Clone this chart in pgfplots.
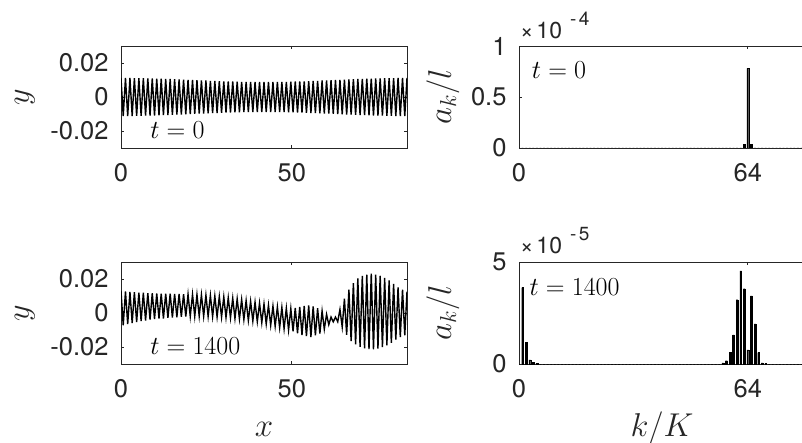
\RequirePackage{fix-cm}
\documentclass[border=0pt]{standalone}
\usepackage{pgfplots}
\pgfplotsset{compat=1.18}
\usepackage{pgfplotstable}
\usepackage{fontspec}
\newfontfamily\heros{TeX Gyre Heros}
\definecolor{axgray}{RGB}{38,38,38}

\pgfplotstableread{
x y0 y1
0 0.0112 0.0129
0.65 -0.0112 -0.0072
1.31 0.0112 0.0127
1.96 -0.0112 -0.0065
2.62 0.0112 0.0124
3.27 -0.0112 -0.0059
3.92 0.0111 0.0122
4.58 -0.0111 -0.0053
5.23 0.0111 0.0120
5.89 -0.0111 -0.0047
6.54 0.0111 0.0119
7.19 -0.0110 -0.0044
7.85 0.0110 0.0117
8.50 -0.0110 -0.0039
9.15 0.0109 0.0116
9.81 -0.0109 -0.0035
10.46 0.0108 0.0115
11.12 -0.0108 -0.0033
11.77 0.0108 0.0114
12.42 -0.0107 -0.0032
13.08 0.0107 0.0114
13.73 -0.0106 -0.0029
14.39 0.0106 0.0114
15.04 -0.0105 -0.0027
15.69 0.0105 0.0112
16.35 -0.0104 -0.0025
17.00 0.0103 0.0112
17.66 -0.0103 -0.0023
18.31 0.0102 0.0111
18.96 -0.0102 -0.0021
19.62 0.0101 0.0110
20.27 -0.0101 -0.0020
20.93 0.0100 0.0109
21.58 -0.0099 -0.0020
22.23 0.0099 0.0108
22.89 -0.0098 -0.0019
23.54 0.0098 0.0107
24.19 -0.0097 -0.0019
24.85 0.0097 0.0105
25.50 -0.0096 -0.0020
26.16 0.0095 0.0103
26.81 -0.0095 -0.0021
27.46 0.0094 0.0100
28.12 -0.0094 -0.0023
28.77 0.0093 0.0097
29.43 -0.0093 -0.0024
30.08 0.0092 0.0095
30.73 -0.0092 -0.0027
31.39 0.0092 0.0090
32.04 -0.0091 -0.0029
32.70 0.0091 0.0087
33.35 -0.0090 -0.0033
34.00 0.0090 0.0083
34.66 -0.0090 -0.0035
35.31 0.0089 0.0079
35.96 -0.0089 -0.0039
36.62 0.0089 0.0073
37.27 -0.0089 -0.0044
37.93 0.0089 0.0069
38.58 -0.0089 -0.0047
39.23 0.0088 0.0064
39.89 -0.0088 -0.0051
40.54 0.0088 0.0058
41.20 -0.0088 -0.0057
41.85 0.0088 0.0053
42.50 -0.0088 -0.0065
43.16 0.0088 0.0046
43.81 -0.0088 -0.0072
44.47 0.0088 0.0041
45.12 -0.0089 -0.0078
45.77 0.0089 0.0036
46.43 -0.0089 -0.0086
47.08 0.0089 0.0033
47.73 -0.0089 -0.0093
48.39 0.0089 0.0029
49.04 -0.0090 -0.0100
49.70 0.0090 0.0026
50.35 -0.0090 -0.0108
51.00 0.0091 0.0030
51.66 -0.0091 -0.0119
52.31 0.0092 0.0036
52.97 -0.0092 -0.0130
53.62 0.0092 0.0041
54.27 -0.0093 -0.0136
54.93 0.0093 0.0044
55.58 -0.0094 -0.0141
56.24 0.0094 0.0039
56.89 -0.0095 -0.0132
57.54 0.0095 0.0028
58.20 -0.0096 -0.0121
58.85 0.0097 0.0012
59.50 -0.0097 -0.0095
60.16 0.0098 -0.0008
60.81 -0.0098 -0.0069
61.47 0.0099 -0.0024
62.12 -0.0099 -0.0052
62.77 0.0100 -0.0024
63.43 -0.0101 -0.0051
64.08 0.0101 0.0021
64.74 -0.0102 -0.0082
65.39 0.0102 0.0084
66.04 -0.0103 -0.0128
66.70 0.0103 0.0138
67.35 -0.0104 -0.0165
68.01 0.0105 0.0175
68.66 -0.0105 -0.0185
69.31 0.0106 0.0203
69.97 -0.0106 -0.0199
70.62 0.0107 0.0218
71.28 -0.0107 -0.0208
71.93 0.0108 0.0226
72.58 -0.0108 -0.0213
73.24 0.0108 0.0231
73.89 -0.0109 -0.0214
74.54 0.0109 0.0226
75.20 -0.0110 -0.0209
75.85 0.0110 0.0219
76.51 -0.0110 -0.0201
77.16 0.0111 0.0206
77.81 -0.0111 -0.0190
78.47 0.0111 0.0192
79.12 -0.0111 -0.0175
79.78 0.0111 0.0171
80.43 -0.0112 -0.0156
81.08 0.0112 0.0151
81.74 -0.0112 -0.0142
82.39 0.0112 0.0138
83.05 -0.0112 -0.0131
83.70 0.0112 0.0125
}\wavetable

% spectrum at t = 0, in units of 1e-4
\pgfplotstableread{
k a
0 0
1 0
2 0
3 0
4 0
5 0
6 0
7 0
8 0
9 0
10 0
11 0
12 0
13 0
14 0
15 0
16 0
17 0
18 0
19 0
20 0
21 0
22 0
23 0
24 0
25 0
26 0
27 0
28 0
29 0
30 0
31 0
32 0
33 0
34 0
35 0
36 0
37 0
38 0
39 0
40 0
41 0
42 0
43 0
44 0
45 0
46 0
47 0
48 0
49 0
50 0
51 0
52 0
53 0
54 0
55 0
56 0
57 0
58 0
59 0
60 0
61 0
62 0
63 0.035
64 0.78
65 0.035
66 0
67 0
68 0
69 0
70 0
71 0
72 0
73 0
74 0
75 0
76 0
77 0
78 0
79 0
80 0
}\specA

% spectrum at t = 1400, in units of 1e-5
\pgfplotstableread{
k a
0 0
1 3.75
2 1.05
3 0.20
4 0.08
5 0.03
6 0
7 0
8 0
9 0
10 0
11 0
12 0
13 0
14 0
15 0
16 0
17 0
18 0
19 0
20 0
21 0
22 0
23 0
24 0
25 0
26 0
27 0
28 0
29 0
30 0
31 0
32 0
33 0
34 0
35 0
36 0
37 0
38 0
39 0
40 0
41 0
42 0
43 0
44 0
45 0
46 0
47 0
48 0
49 0
50 0
51 0
52 0
53 0
54 0
55 0
56 0
57 0.05
58 0.16
59 0.56
60 1.43
61 3.15
62 4.57
63 3.69
64 0.69
65 3.34
66 1.97
67 0.56
68 0.06
69 0.03
70 0
71 0
72 0
73 0
74 0
75 0
76 0
77 0
78 0
79 0
80 0
}\specB

\tikzset{
  expo/.style={anchor=base west, font=\heros\fontsize{23}{27}\selectfont, text=axgray, inner sep=0pt},
  tlab/.style={anchor=base west, font=\fontsize{26}{30}\selectfont},
}
\newcommand{\expo}[1]{×\hspace{3pt}10\hspace{8pt}\raisebox{12.6pt}{\fontsize{19}{22}\selectfont -\hspace{2.5pt}#1}}

\pgfplotsset{
  base/.style={
    scale only axis, width=286pt, height=102pt, anchor=south west,
    axis line style={axgray, line width=0.9pt},
    every tick/.style={axgray, line width=0.9pt},
    major tick length=3pt,
    tick align=inside,
    clip mode=individual,
    scaled ticks=false,
    ticklabel style={font=\heros\fontsize{25.5}{30}\selectfont, text=axgray},
    xticklabel style={yshift=-12pt},
    yticklabel style={xshift=-9pt},
  },
  wave/.style={base, xmin=0, xmax=83.7, ymin=-0.03, ymax=0.03,
    xtick={0,50}, xticklabels={0,50},
    ytick={-0.02,0,0.02}, yticklabels={-0.02,0,0.02},
    ylabel={$y$},
    ylabel style={at={(axis description cs:-0.336,0.5)}, anchor=center, inner sep=0pt,
      font=\fontsize{32}{37}\selectfont, text=axgray},
  },
  spec/.style={base, xmin=0, xmax=80, ymin=0,
    xtick={0,64}, xticklabels={0,64},
    ylabel={$a_k/l$},
    ylabel style={at={(axis description cs:-0.266,0.5)}, anchor=center, inner sep=0pt,
      font=\fontsize{33}{38}\selectfont, text=axgray},
  },
  xlab/.style={xlabel style={at={(axis description cs:0.5,-0.706)}, anchor=base, inner sep=0pt,
      font=\fontsize{33}{38}\selectfont, text=axgray}},
  bars/.style={ybar, bar width=0.5, fill=black, draw=black, line width=0.25pt},
}

\begin{document}
\begin{tikzpicture}
% top left
\begin{axis}[wave, at={(121pt,294pt)}]
\addplot[black, line width=1.4pt] table[x=x, y=y0]{\wavetable};
\node[tlab] at (rel axis cs:0.09,0.098) {$t=0$};
\end{axis}
% top right
\begin{axis}[spec, at={(519pt,294pt)}, ymax=1,
  ytick={0,0.5,1}, yticklabels={0,0.5,1}]
\addplot[bars] table[x=k, y=a]{\specA};
\node[tlab] at (rel axis cs:0.0325,0.682) {$t=0$};
\node[expo] at (rel axis cs:0.003,1) [yshift=7.5pt] {\expo{4}};
\end{axis}
% bottom left
\begin{axis}[wave, xlab, at={(121pt,78pt)}, xlabel={$x$}]
\addplot[black, line width=1.4pt] table[x=x, y=y1]{\wavetable};
\node[tlab] at (rel axis cs:0.09,0.095) {$t=1400$};
\end{axis}
% bottom right
\begin{axis}[spec, xlab, at={(519pt,78pt)}, ymax=5,
  ytick={0,5}, yticklabels={0,5}, xlabel={$k/K$}]
\addplot[bars] table[x=k, y=a]{\specB};
\node[tlab] at (rel axis cs:0.0245,0.676) {$t=1400$};
\node[expo] at (rel axis cs:0.003,1) [yshift=8.5pt] {\expo{5}};
\end{axis}
\pgfresetboundingbox
\path[use as bounding box] (0,0) rectangle (802pt,442pt);
\end{tikzpicture}
\end{document}
